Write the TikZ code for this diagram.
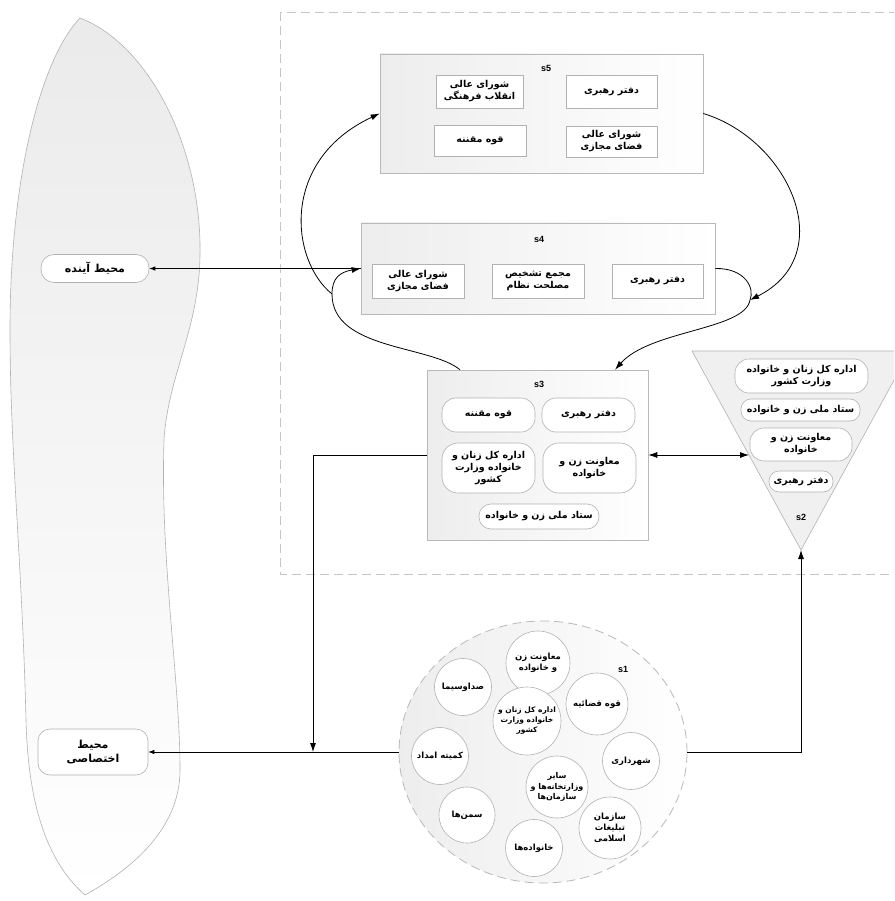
\documentclass[tikz,border=0pt]{standalone}
\usepackage{fontspec}
\usetikzlibrary{arrows.meta,shapes.geometric,calc}
\TeXXeTstate=1
\newfontfamily\arabicfont[Script=Arabic]{DejaVu Sans}
\newfontfamily\latfont{Liberation Sans}
\newcommand{\fa}[1]{{\beginR #1\endR}}
\newcommand{\fafont}{\arabicfont\bfseries\fontsize{9.5}{12}\selectfont}
\newcommand{\facirc}{\arabicfont\bfseries\fontsize{8.5}{11}\selectfont}
\tikzset{
  grp/.style={draw=gray!55, line width=0.6pt, left color=gray!14, right color=white, inner sep=0pt},
  sqbox/.style={draw=gray!60, fill=white, line width=0.6pt, inner sep=1pt, align=center, font=\fafont},
  rbox/.style={sqbox, rounded corners=14pt},
  circ/.style={circle, draw=gray!60, fill=white, line width=0.6pt, inner sep=0pt, align=center, font=\facirc},
  grplbl/.style={font=\latfont\bfseries\fontsize{9}{10}\selectfont, inner sep=0pt},
  conn/.style={draw=black, line width=0.8pt},
  arr/.style={conn, -{Latex[length=9pt,width=6pt]}},
  sarr/.style={conn, -{Latex[length=6pt,width=4.5pt]}},
}
\begin{document}
\begin{tikzpicture}[x=1pt,y=-1pt]
\useasboundingbox (0,0) rectangle (894,901);
\clip (0,0) rectangle (894,901);
\fill[white] (0,0) rectangle (894,901);

% left environment shape
\path[draw=gray!60, line width=0.6pt, top color=gray!16, bottom color=white]
  (80,18) .. controls (150,45) and (202,150) .. (200,255)
  .. controls (199,330) and (168,375) .. (164,440)
  .. controls (160,560) and (180,680) .. (180,770)
  .. controls (180,830) and (130,870) .. (85,895)
  .. controls (45,860) and (28,800) .. (26,720)
  .. controls (22,560) and (10,450) .. (10,330)
  .. controls (10,180) and (40,60) .. (80,18) -- cycle;

% dashed outer frame
\draw[gray!45, line width=0.8pt, dash pattern=on 9pt off 5pt] (280,12) rectangle (930,574);

% s5
\node[grp, minimum width=323pt, minimum height=119pt] (s5) at (541.5,113.5) {};
\node[grplbl] (s5l) at (546,68) {s5};
\node[sqbox, minimum width=87pt, minimum height=33pt] (s5a) at (479.5,91.5) {\fa{شورای عالی}\\\fa{انقلاب فرهنگی}};
\node[sqbox, minimum width=91pt, minimum height=33pt] (s5b) at (611.5,91.5) {\fa{دفتر رهبری}};
\node[sqbox, minimum width=92pt, minimum height=31pt] (s5c) at (480,140.5) {\fa{قوه مقننه}};
\node[sqbox, minimum width=91pt, minimum height=31pt] (s5d) at (611.5,141.5) {\fa{شورای عالی}\\\fa{فضای مجازی}};

% s4
\node[grp, minimum width=354pt, minimum height=91pt] (s4) at (538,268.5) {};
\node[grplbl] (s4l) at (539,239) {s4};
\node[sqbox, minimum width=92pt, minimum height=34pt] (s4a) at (418,281) {\fa{شورای عالی}\\\fa{فضای مجازی}};
\node[sqbox, minimum width=92pt, minimum height=34pt] (s4b) at (538,281) {\fa{مجمع تشخیص}\\\fa{مصلحت نظام}};
\node[sqbox, minimum width=91pt, minimum height=34pt] (s4c) at (657.5,281) {\fa{دفتر رهبری}};

% s3
\node[grp, minimum width=221pt, minimum height=170pt] (s3) at (537.5,455) {};
\node[grplbl] (s3l) at (539,384) {s3};
\node[rbox, minimum width=93pt, minimum height=34pt] (s3a) at (488.5,415) {\fa{قوه مقننه}};
\node[rbox, minimum width=93pt, minimum height=34pt] (s3b) at (588.5,415) {\fa{دفتر رهبری}};
\node[rbox, minimum width=93pt, minimum height=50pt, rounded corners=16pt] (s3c) at (488.5,468) {\fa{اداره کل زنان و}\\\fa{خانواده وزارت}\\\fa{کشور}};
\node[rbox, minimum width=93pt, minimum height=50pt, rounded corners=16pt] (s3d) at (589.5,468) {\fa{معاونت زن و}\\\fa{خانواده}};
\node[rbox, minimum width=120pt, minimum height=25pt, rounded corners=12pt] (s3e) at (539,516.5) {\fa{ستاد ملی زن و خانواده}};

% s2 triangle
\draw[draw=gray!60, line width=0.6pt, fill=gray!12] (692,351) -- (910,351) -- (801,550) -- cycle;
\coordinate (s2apex) at (801,550);
\coordinate (s2w) at (749,455);
\node[rbox, minimum width=133pt, minimum height=34pt] (s2a) at (801.5,376) {\fa{اداره کل زنان و خانواده}\\\fa{وزارت کشور}};
\node[rbox, minimum width=119pt, minimum height=22pt, rounded corners=10pt] (s2b) at (800.5,410) {\fa{ستاد ملی زن و خانواده}};
\node[rbox, minimum width=102pt, minimum height=33pt] (s2c) at (801,444.5) {\fa{معاونت زن و}\\\fa{خانواده}};
\node[rbox, minimum width=64pt, minimum height=21pt, rounded corners=10pt] (s2d) at (801,481.5) {\fa{دفتر رهبری}};
\node[grplbl] (s2l) at (801,517) {s2};

% s1 ellipse
\node[ellipse, draw=gray!55, line width=0.8pt, dash pattern=on 9pt off 5pt, left color=gray!14, right color=white, minimum width=288pt, minimum height=262pt, inner sep=0pt] (s1) at (543,752) {};
\node[grplbl] (s1l) at (623,669) {s1};
\node[circ, minimum size=64pt] (c1) at (538,663) {\fa{معاونت زن}\\\fa{و خانواده}};
\node[circ, minimum size=57pt] (c2) at (463,687) {\fa{صداوسیما}};
\node[circ, minimum size=62pt] (c3) at (597,704) {\fa{قوه قضائیه}};
\node[circ, minimum size=68pt, font=\arabicfont\bfseries\fontsize{7.5}{10}\selectfont] (c4) at (527,721) {\fa{اداره کل زنان و}\\\fa{خانواده وزارت}\\\fa{کشور}};
\node[circ, minimum size=57pt] (c5) at (440,756) {\fa{کمیته امداد}};
\node[circ, minimum size=57pt] (c6) at (631,761) {\fa{شهرداری}};
\node[circ, minimum size=62pt, font=\arabicfont\bfseries\fontsize{8}{10.5}\selectfont] (c7) at (557,787) {\fa{سایر}\\\fa{وزارتخانه‌ها و}\\\fa{سازمان‌ها}};
\node[circ, minimum size=56pt] (c8) at (467,815) {\fa{سمن‌ها}};
\node[circ, minimum size=62pt] (c9) at (610,828) {\fa{سازمان}\\\fa{تبلیغات}\\\fa{اسلامی}};
\node[circ, minimum size=57pt] (c10) at (534,848) {\fa{خانواده‌ها}};

% environment labels
\node[draw=gray!60, fill=white, line width=0.6pt, rounded corners=13pt, minimum width=108pt, minimum height=28pt, font=\arabicfont\bfseries\fontsize{11}{13}\selectfont] (env1) at (95,268.5) {\fa{محیط آینده}};
\node[draw=gray!60, fill=white, line width=0.6pt, rounded corners=12pt, minimum width=110pt, minimum height=46pt, align=center, font=\arabicfont\bfseries\fontsize{11}{14}\selectfont] (env2) at (93,752) {\fa{محیط}\\\fa{اختصاصی}};

% connectors
\coordinate (j1) at (750,300);
\coordinate (br) at (332,294);
\coordinate (jn) at (313,752);
\draw[sarr] (s4.west) -- (env1.east);
\draw[sarr] (s1.west) -- (env2.east);
\draw[arr] (s3.west) -| (jn);
\draw[arr] (s1.east) -| (s2apex);
\draw[arr, {Latex[length=9pt,width=6pt]}-{Latex[length=9pt,width=6pt]}] (s3.east) -- (s2w);
\draw[arr] (s5.east) .. controls (790,140) and (840,255) .. (j1);
\draw[arr] (s4.east) .. controls (745,268) and (755,288) .. (j1) .. controls (745,330) and (650,330) .. ($(s3.north east)!0.15!(s3.north west)$);
\draw[arr] ($(s3.north west)!0.15!(s3.north east)$) .. controls (430,345) and (332,350) .. (br) .. controls (332,278) and (340,272) .. (s4.west);
\draw[arr] (br) .. controls (290,260) and (280,160) .. (s5.west);
\end{tikzpicture}
\end{document}
